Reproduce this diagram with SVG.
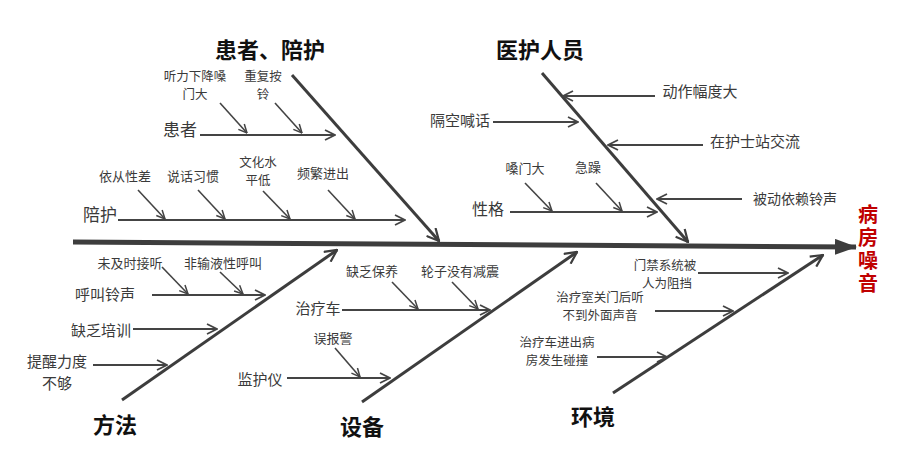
<svg xmlns="http://www.w3.org/2000/svg" width="900" height="451" viewBox="0 0 900 451">
<style>
text{font-family:"Noto Sans CJK SC","Noto Sans",sans-serif;dominant-baseline:central;text-anchor:middle;fill:#3a3a3a}
.t{font-size:22px;font-weight:bold;fill:#111}
.m{font-size:16px}
.s{font-size:13px}
.s2{font-size:12.5px}
.r{font-size:20px;font-weight:bold;fill:#c00000;writing-mode:vertical-rl;letter-spacing:3px}
.bone{stroke:#3d3d3d;stroke-width:3;fill:none}
.sub{stroke:#444;stroke-width:2;fill:none}
.tw{stroke:#444;stroke-width:1.6;fill:none}
</style>
<defs>
<marker id="head" viewBox="0 0 22 16" refX="21" refY="8" markerWidth="22" markerHeight="16" markerUnits="userSpaceOnUse" orient="auto"><path d="M0,0 L22,8 L0,16 z" fill="#3d3d3d"/></marker>
<marker id="ab" viewBox="0 0 14 14" refX="13" refY="7" markerWidth="14" markerHeight="14" markerUnits="userSpaceOnUse" orient="auto"><path d="M1,1 L13,7 L1,13" fill="none" stroke="#3d3d3d" stroke-width="2.2"/></marker>
<marker id="am" viewBox="0 0 12 12" refX="11" refY="6" markerWidth="12" markerHeight="12" markerUnits="userSpaceOnUse" orient="auto"><path d="M1,1 L11,6 L1,11" fill="none" stroke="#444" stroke-width="1.8"/></marker>
<marker id="as" viewBox="0 0 10 10" refX="9.5" refY="5" markerWidth="10" markerHeight="10" markerUnits="userSpaceOnUse" orient="auto"><path d="M1,1 L9.5,5 L1,9" fill="none" stroke="#444" stroke-width="1.5"/></marker>
</defs>
<rect width="900" height="451" fill="#fff"/>
<g id="connectors">
<path d="M73,242 L856,247" stroke="#3d3d3d" stroke-width="5" fill="none" marker-end="url(#head)"/>
<path class="bone" d="M292,75 L439,241" marker-end="url(#ab)"/>
<path class="bone" d="M542,73 L688,242" marker-end="url(#ab)"/>
<path class="bone" d="M122,400 L337,250" marker-end="url(#ab)"/>
<path class="bone" d="M362,402 L577,252" marker-end="url(#ab)"/>
<path class="bone" d="M613,393 L823,255" marker-end="url(#ab)"/>
<path class="sub" d="M200,135 L335,135" marker-end="url(#am)"/>
<path class="tw" d="M220,103 L247,133" marker-end="url(#as)"/>
<path class="tw" d="M275,103 L302,133" marker-end="url(#as)"/>
<path class="sub" d="M118,220 L405,220" marker-end="url(#am)"/>
<path class="tw" d="M138,190 L165,219" marker-end="url(#as)"/>
<path class="tw" d="M198,190 L225,219" marker-end="url(#as)"/>
<path class="tw" d="M263,191 L290,219" marker-end="url(#as)"/>
<path class="tw" d="M328,190 L355,219" marker-end="url(#as)"/>
<path class="sub" d="M655,96 L563,96" marker-end="url(#am)"/>
<path class="sub" d="M703,145 L608,145" marker-end="url(#am)"/>
<path class="sub" d="M742,199 L657,199" marker-end="url(#am)"/>
<path class="sub" d="M493,122 L578,122" marker-end="url(#am)"/>
<path class="sub" d="M510,212 L657,212" marker-end="url(#am)"/>
<path class="tw" d="M525,183 L552,211" marker-end="url(#as)"/>
<path class="tw" d="M596,183 L622,211" marker-end="url(#as)"/>
<path class="sub" d="M152,295 L265,295" marker-end="url(#am)"/>
<path class="tw" d="M162,267 L188,294" marker-end="url(#as)"/>
<path class="tw" d="M220,272 L243,294" marker-end="url(#as)"/>
<path class="sub" d="M133,329 L217,329" marker-end="url(#am)"/>
<path class="sub" d="M93,365 L167,365" marker-end="url(#am)"/>
<path class="sub" d="M342,310 L490,310" marker-end="url(#am)"/>
<path class="tw" d="M392,282 L418,309" marker-end="url(#as)"/>
<path class="tw" d="M452,282 L478,309" marker-end="url(#as)"/>
<path class="sub" d="M287,378 L390,378" marker-end="url(#am)"/>
<path class="tw" d="M335,348 L360,377" marker-end="url(#as)"/>
<path class="sub" d="M698,273 L788,273" marker-end="url(#am)"/>
<path class="sub" d="M655,311 L733,311" marker-end="url(#am)"/>
<path class="sub" d="M597,357 L667,357" marker-end="url(#am)"/>
</g>
<g id="effect">
<text class="r" x="868" y="250">病房噪音</text>
</g>
<g id="cat-patient">
<text class="t" x="270" y="48">患者、陪护</text>
<text class="m" x="180" y="128" style="font-size:17px">患者</text>
<text class="s2" x="195" y="75.5">听力下降嗓</text><text class="s2" x="195" y="93.5">门大</text>
<text class="s2" x="263" y="75.5">重复按</text><text class="s2" x="263" y="93.5">铃</text>
<text class="m" x="100" y="213" style="font-size:17px">陪护</text>
<text class="s" x="125" y="175">依从性差</text>
<text class="s" x="193" y="175">说话习惯</text>
<text class="s2" x="258" y="161.5">文化水</text><text class="s2" x="258" y="179.5">平低</text>
<text class="s" x="323" y="172">频繁进出</text>
</g>
<g id="cat-staff">
<text class="t" x="540" y="48">医护人员</text>
<text class="m" x="700" y="90" style="font-size:15px">动作幅度大</text>
<text class="m" x="755" y="140" style="font-size:15px">在护士站交流</text>
<text class="m" x="795" y="198" style="font-size:14px">被动依赖铃声</text>
<text class="m" x="460" y="119" style="font-size:15px">隔空喊话</text>
<text class="m" x="488" y="208">性格</text>
<text class="s" x="525" y="167">嗓门大</text>
<text class="s" x="588" y="166">急躁</text>
</g>
<g id="cat-method">
<text class="t" x="115" y="423">方法</text>
<text class="m" x="105" y="293" style="font-size:15px">呼叫铃声</text>
<text class="s" x="130" y="262">未及时接听</text>
<text class="s" x="223" y="262">非输液性呼叫</text>
<text class="m" x="101" y="329" style="font-size:15px">缺乏培训</text>
<text class="m" x="57" y="360" style="font-size:15px">提醒力度</text><text class="m" x="57" y="382" style="font-size:15px">不够</text>
</g>
<g id="cat-equipment">
<text class="t" x="362" y="425">设备</text>
<text class="m" x="318" y="307" style="font-size:15px">治疗车</text>
<text class="s" x="372" y="270">缺乏保养</text>
<text class="s" x="460" y="270">轮子没有减震</text>
<text class="m" x="260" y="378" style="font-size:15px">监护仪</text>
<text class="s" x="333" y="337">误报警</text>
</g>
<g id="cat-environment">
<text class="t" x="593" y="415">环境</text>
<text class="s2" x="665" y="264">门禁系统被</text><text class="s2" x="667" y="282">人为阻挡</text>
<text class="s2" x="600" y="296.5">治疗室关门后听</text><text class="s2" x="600" y="314.5">不到外面声音</text>
<text class="s2" x="557" y="341.5">治疗车进出病</text><text class="s2" x="557" y="359.5">房发生碰撞</text>
</g>
</svg>
